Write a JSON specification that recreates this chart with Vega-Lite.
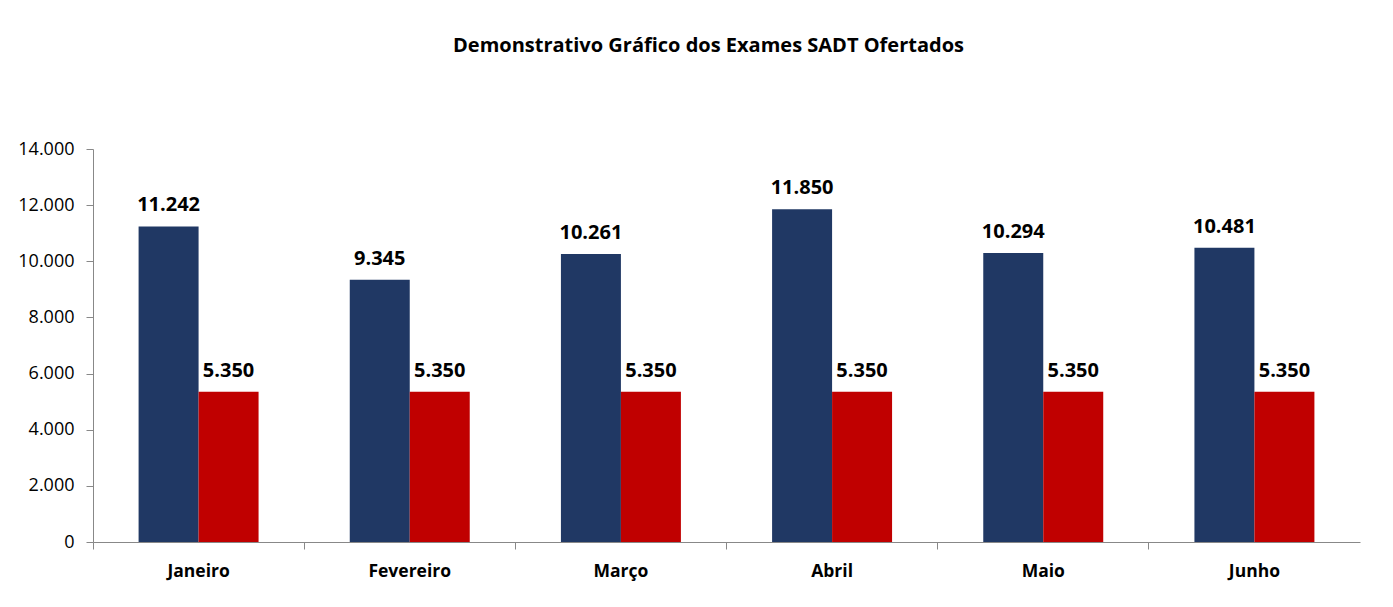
{
  "$schema": "https://vega.github.io/schema/vega-lite/v6.json",
  "width": 1267,
  "height": 393,
  "autosize": {"type": "none"},
  "padding": {"left": 93, "top": 149, "right": 33, "bottom": 65},
  "background": "white",
  "config": {
    "font": "Open Sans",
    "view": {"stroke": null},
    "locale": {"number": {"decimal": ",", "thousands": ".", "grouping": [3], "currency": ["R$", ""]}}
  },
  "title": {
    "text": "Demonstrativo Gráfico dos Exames SADT Ofertados",
    "font": "Open Sans",
    "fontSize": 20,
    "fontWeight": "bold",
    "color": "#000000",
    "anchor": "middle",
    "dx": -18,
    "offset": 84
  },
  "data": {
    "values": [
      {"mes": "Janeiro", "serie": "Ofertados", "valor": 11242},
      {"mes": "Janeiro", "serie": "Meta", "valor": 5350},
      {"mes": "Fevereiro", "serie": "Ofertados", "valor": 9345},
      {"mes": "Fevereiro", "serie": "Meta", "valor": 5350},
      {"mes": "Março", "serie": "Ofertados", "valor": 10261},
      {"mes": "Março", "serie": "Meta", "valor": 5350},
      {"mes": "Abril", "serie": "Ofertados", "valor": 11850},
      {"mes": "Abril", "serie": "Meta", "valor": 5350},
      {"mes": "Maio", "serie": "Ofertados", "valor": 10294},
      {"mes": "Maio", "serie": "Meta", "valor": 5350},
      {"mes": "Junho", "serie": "Ofertados", "valor": 10481},
      {"mes": "Junho", "serie": "Meta", "valor": 5350}
    ]
  },
  "encoding": {
    "x": {
      "field": "mes",
      "type": "nominal",
      "sort": ["Janeiro", "Fevereiro", "Março", "Abril", "Maio", "Junho"],
      "scale": {"paddingInner": 0, "paddingOuter": 0},
      "axis": {
        "title": null,
        "labelAngle": 0,
        "labelFont": "Open Sans",
        "labelFontSize": 17.5,
        "labelFontWeight": "bold",
        "labelColor": "#000000",
        "labelPadding": 13,
        "domainColor": "#888888",
        "tickColor": "#888888",
        "tickSize": 7,
        "bandPosition": 0,
        "grid": false
      }
    },
    "xOffset": {
      "field": "serie",
      "type": "nominal",
      "sort": ["Ofertados", "Meta"],
      "scale": {"paddingInner": 0, "paddingOuter": 0.76}
    },
    "y": {
      "field": "valor",
      "type": "quantitative",
      "scale": {"domain": [0, 14000]},
      "axis": {
        "title": null,
        "values": [0, 2000, 4000, 6000, 8000, 10000, 12000, 14000],
        "format": ",d",
        "grid": false,
        "labelFont": "Open Sans",
        "labelFontSize": 18,
        "labelColor": "#000000",
        "labelPadding": 12,
        "domainColor": "#888888",
        "tickColor": "#888888",
        "tickSize": 7
      }
    }
  },
  "layer": [
    {
      "mark": {"type": "bar"},
      "encoding": {
        "color": {
          "field": "serie",
          "type": "nominal",
          "scale": {"domain": ["Ofertados", "Meta"], "range": ["#203864", "#C00000"]},
          "legend": null
        }
      }
    },
    {
      "mark": {"type": "text", "baseline": "bottom", "dy": -11, "font": "Open Sans", "fontSize": 20, "fontWeight": "bold", "color": "#000000"},
      "encoding": {
        "text": {"field": "valor", "type": "quantitative", "format": ",d"}
      }
    }
  ]
}
